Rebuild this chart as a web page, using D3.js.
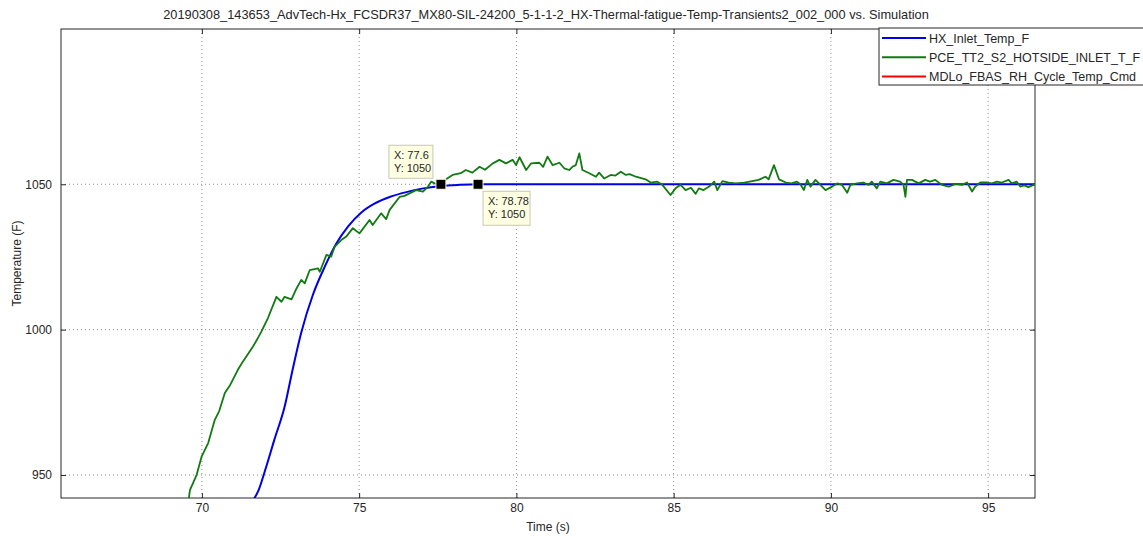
<!DOCTYPE html>
<html>
<head>
<meta charset="utf-8">
<script src="https://cdn.jsdelivr.net/npm/d3@7"></script>
<style>
  body { margin: 0; background: #fff; }
  text { font-family: "Liberation Sans", Arial, sans-serif; }
</style>
</head>
<body>
<div id="chart"></div>
<script>
const titleText = "20190308_143653_AdvTech-Hx_FCSDR37_MX80-SIL-24200_5-1-1-2_HX-Thermal-fatigue-Temp-Transients2_002_000 vs. Simulation";
const seriesNames = ["HX_Inlet_Temp_F", "PCE_TT2_S2_HOTSIDE_INLET_T_F", "MDLo_FBAS_RH_Cycle_Temp_Cmd"];
const seriesColors = ["#0000e6", "#127a12", "#ff0000"];
const xTicks = [70, 75, 80, 85, 90, 95];
const yTicks = [950, 1000, 1050];

// simulation (blue)
const blueT = [71.55, 71.81, 72.05, 72.30, 72.63, 72.90, 73.16, 73.53, 73.90, 74.27, 74.65, 75.07, 75.50, 75.97, 76.50, 77.00, 77.60, 78.20, 78.78, 80.00, 90.00, 96.50];
const blueV = [940, 945, 953, 962, 973.5, 987, 999, 1012, 1021.5, 1029.5, 1035.5, 1040.3, 1043.4, 1045.6, 1047.3, 1048.5, 1049.4, 1049.8, 1050, 1050, 1050, 1050];

// measured (green)
const greenT = [69.50, 69.62, 69.83, 69.99, 70.20, 70.41, 70.55, 70.73, 70.90, 71.14, 71.30, 71.62, 71.75, 71.89, 72.10, 72.37, 72.53, 72.63, 72.85, 73.00,
  73.16, 73.27, 73.43, 73.69, 73.75, 73.96, 74.11, 74.22, 74.43, 74.59, 74.80, 75.01, 75.33, 75.43, 75.70, 75.86, 75.97, 76.29, 76.44, 76.81,
  77.03, 77.19, 77.29, 77.40, 77.60, 77.80, 77.97, 78.23, 78.39, 78.60, 78.83, 79.00, 79.25, 79.46, 79.67, 79.88, 79.99, 80.10, 80.31, 80.47,
  80.73, 80.85, 80.99, 81.15, 81.37, 81.52, 81.68, 81.78, 81.89, 82.00, 82.10, 82.32, 82.53, 82.63, 82.79, 83.00, 83.15, 83.32, 83.48, 83.60,
  83.80, 84.11, 84.27, 84.48, 84.64, 84.90, 85.06, 85.22, 85.38, 85.55, 85.70, 85.80, 85.95, 86.13, 86.29, 86.39, 86.55, 86.75, 86.97, 87.25,
  87.50, 87.70, 87.92, 88.02, 88.19, 88.35, 88.57, 88.75, 88.92, 89.03, 89.14, 89.25, 89.35, 89.51, 89.65, 89.83, 90.04, 90.20, 90.35, 90.52,
  90.62, 90.83, 91.03, 91.20, 91.30, 91.46, 91.57, 91.78, 91.99, 92.20, 92.31, 92.37, 92.42, 92.58, 92.79, 93.00, 93.15, 93.32, 93.53, 93.75,
  93.96, 94.17, 94.33, 94.49, 94.59, 94.75, 94.96, 95.12, 95.28, 95.44, 95.65, 95.75, 95.91, 96.02, 96.15, 96.28, 96.49];
const greenV = [935, 944.8, 950, 956.3, 961, 969, 972, 978.2, 981, 986.1, 989, 994.1, 996.5, 999.3, 1004, 1011.3, 1009.6, 1011.3, 1010.4, 1014,
  1017.1, 1015.9, 1020.5, 1021.1, 1019.9, 1025.7, 1025.1, 1028.5, 1030.8, 1032, 1034.9, 1033.1, 1037.7, 1036, 1040, 1038, 1041.2, 1045.7, 1046, 1048,
  1047.5, 1049.2, 1050.9, 1050.3, 1050, 1052, 1053.2, 1053.8, 1054.9, 1054, 1056, 1055, 1057.2, 1058.4, 1057.2, 1058.4, 1056.6, 1059.3, 1054.9, 1057.2,
  1057.4, 1056, 1059.5, 1056.6, 1057.4, 1055.5, 1054.9, 1056, 1056.6, 1060.6, 1054.9, 1053.8, 1052.6, 1054, 1052, 1053.2, 1053, 1054.3, 1053.2, 1053.5,
  1052.6, 1051.7, 1050.6, 1050.9, 1049.8, 1046.3, 1048.6, 1049.8, 1048, 1048.8, 1046.7, 1048.6, 1048, 1049.2, 1050.9, 1048, 1051.1, 1050.6, 1050.3, 1050.6,
  1051.1, 1051.5, 1052.6, 1051.7, 1056.6, 1051.7, 1050.6, 1050.3, 1050.9, 1050, 1048, 1051.5, 1049.2, 1051.5, 1050, 1048, 1049.2, 1050.3, 1049.8, 1047.1,
  1049.8, 1050.3, 1050.6, 1049.8, 1050.9, 1048.6, 1050.9, 1050.3, 1051.5, 1050.9, 1049.8, 1045.7, 1051.5, 1051.5, 1050.3, 1051.5, 1050.9, 1051.5, 1049.8, 1049.2,
  1050.1, 1049.8, 1050.6, 1047.5, 1049.2, 1050.6, 1050.6, 1050.3, 1050.9, 1050.6, 1051.5, 1050.3, 1050.9, 1049.2, 1049.6, 1049, 1050];

// data tips
const tipX = [77.6, 78.78];
const tipY = [1050, 1050];

const fullWidth = 1143, fullHeight = 536;
const margin = { top: 29, right: 108, bottom: 38, left: 61 };
const width = fullWidth - margin.left - margin.right;
const height = fullHeight - margin.top - margin.bottom;

const svg = d3.select("#chart").append("svg")
  .attr("width", fullWidth)
  .attr("height", fullHeight);

const chart = svg.append("g")
  .attr("transform", `translate(${margin.left},${margin.top})`);

const x = d3.scaleLinear().domain([65.52, 96.49]).range([0, width]);
const y = d3.scaleLinear().domain([942.1, 1103.4]).range([height, 0]);

svg.append("defs").append("clipPath").attr("id", "plotClip")
  .append("rect").attr("width", width).attr("height", height);

// === Grid ===
chart.append("g").selectAll("line").data(xTicks).enter().append("line")
  .attr("x1", d => x(d)).attr("x2", d => x(d))
  .attr("y1", 0).attr("y2", height)
  .attr("stroke", "#8c8c8c").attr("stroke-width", 1)
  .attr("stroke-dasharray", "1,3");
chart.append("g").selectAll("line").data(yTicks).enter().append("line")
  .attr("x1", 0).attr("x2", width)
  .attr("y1", d => y(d)).attr("y2", d => y(d))
  .attr("stroke", "#8c8c8c").attr("stroke-width", 1)
  .attr("stroke-dasharray", "1,3");

// === Axes (ticks inward, on all four sides) ===
const styleAxis = g => {
  g.select(".domain").remove();
  g.selectAll("line").attr("stroke", "#262626");
  g.selectAll("text").style("font-size", "12px").attr("fill", "#262626");
};
chart.append("g").attr("transform", `translate(0,${height})`)
  .call(d3.axisBottom(x).tickValues(xTicks).tickSize(-5).tickPadding(5))
  .call(styleAxis);
chart.append("g")
  .call(d3.axisTop(x).tickValues(xTicks).tickSize(-5).tickFormat(""))
  .call(styleAxis);
chart.append("g")
  .call(d3.axisLeft(y).tickValues(yTicks).tickSize(-5).tickPadding(9).tickFormat(d3.format("d")))
  .call(styleAxis);
chart.append("g").attr("transform", `translate(${width},0)`)
  .call(d3.axisRight(y).tickValues(yTicks).tickSize(-5).tickFormat(""))
  .call(styleAxis);

chart.append("rect")
  .attr("width", width).attr("height", height)
  .attr("fill", "none").attr("stroke", "#262626").attr("stroke-width", 1);

// === Lines ===
const plot = chart.append("g").attr("clip-path", "url(#plotClip)");
plot.append("path")
  .datum(blueT.map((t, i) => [t, blueV[i]]))
  .attr("d", d3.line().x(d => x(d[0])).y(d => y(d[1])).curve(d3.curveMonotoneX))
  .attr("fill", "none").attr("stroke", seriesColors[0]).attr("stroke-width", 2);
plot.append("path")
  .datum(greenT.map((t, i) => [t, greenV[i]]))
  .attr("d", d3.line().x(d => x(d[0])).y(d => y(d[1])))
  .attr("fill", "none").attr("stroke", seriesColors[1]).attr("stroke-width", 1.8)
  .attr("stroke-linejoin", "round");

// === Data tips ===
const tipBoxes = [
  { dx: -52, dy: -39, w: 44, h: 33 },
  { dx: 5, dy: 7, w: 47, h: 34 }
];
tipX.forEach((tx, i) => {
  const px = x(tx), py = y(tipY[i]);
  const b = tipBoxes[i];
  const g = chart.append("g");
  g.append("rect")
    .attr("x", px + b.dx).attr("y", py + b.dy)
    .attr("width", b.w).attr("height", b.h)
    .attr("fill", "#ffffe1").attr("stroke", "#c8c8b4").attr("stroke-width", 1);
  g.append("text").attr("x", px + b.dx + 5).attr("y", py + b.dy + 14)
    .style("font-size", "11px").attr("fill", "#262626")
    .text(`X: ${tx}`);
  g.append("text").attr("x", px + b.dx + 5).attr("y", py + b.dy + 27)
    .style("font-size", "11px").attr("fill", "#262626")
    .text(`Y: ${tipY[i]}`);
  g.append("rect")
    .attr("x", px - 5).attr("y", py - 5)
    .attr("width", 10).attr("height", 10)
    .attr("fill", "#000").attr("stroke", "#ffffe1").attr("stroke-width", 1);
});

// === Labels ===
svg.append("text")
  .attr("x", margin.left + width / 2 - 2).attr("y", 19)
  .attr("text-anchor", "middle")
  .style("font-size", "12.8px").attr("fill", "#262626")
  .text(titleText);

svg.append("text")
  .attr("x", margin.left + width / 2).attr("y", 531)
  .attr("text-anchor", "middle")
  .style("font-size", "12px").attr("fill", "#262626")
  .text("Time (s)");

svg.append("text")
  .attr("transform", `translate(21,${margin.top + height / 2}) rotate(-90)`)
  .attr("text-anchor", "middle")
  .style("font-size", "12px").attr("fill", "#262626")
  .text("Temperature (F)");

// === Legend ===
const legend = svg.append("g").attr("transform", "translate(879,28)");
legend.append("rect")
  .attr("width", 270).attr("height", 57)
  .attr("fill", "#fff").attr("stroke", "#262626").attr("stroke-width", 1);
seriesNames.forEach((name, i) => {
  const ly = 10 + i * 19.3;
  legend.append("line")
    .attr("x1", 3).attr("x2", 47).attr("y1", ly).attr("y2", ly)
    .attr("stroke", seriesColors[i]).attr("stroke-width", 2);
  legend.append("text")
    .attr("x", 50).attr("y", ly + 4.5)
    .style("font-size", "12.5px").attr("fill", "#262626")
    .text(name);
});
</script>
</body>
</html>
